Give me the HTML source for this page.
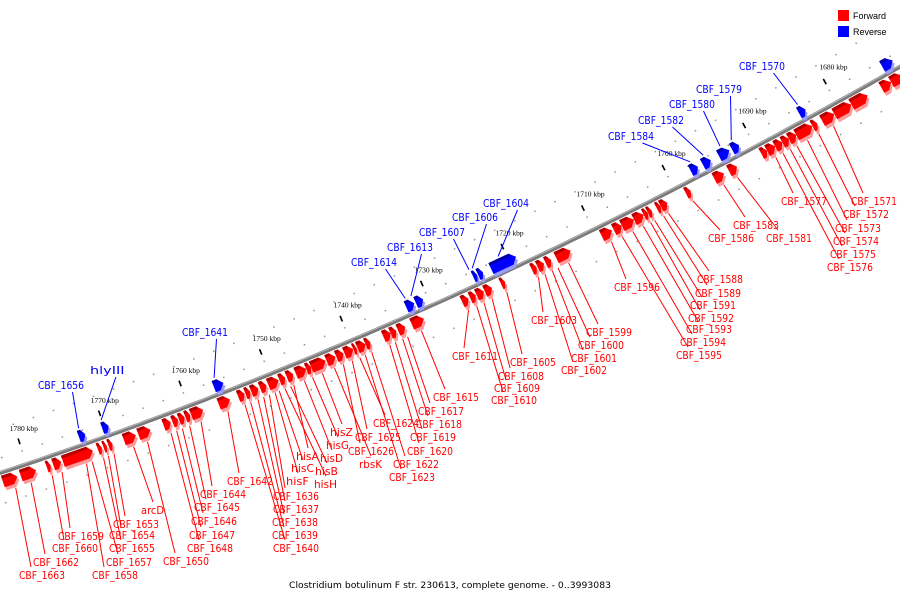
<!DOCTYPE html>
<html><head><meta charset="utf-8"><style>
html,body{margin:0;padding:0;background:#fff;}
svg{display:block;}
</style></head><body>
<svg id="chart" width="900" height="600" viewBox="0 0 900 600" xmlns="http://www.w3.org/2000/svg">
<rect x="0" y="0" width="900" height="600" fill="#fff"/>
<g id="dots"></g>
<g id="ticks"></g>
<g id="leaders"></g>
<g id="backbone"></g>
<g id="genes"></g>
<g id="labels"></g>
<g>
<rect x="838" y="10" width="11" height="11" fill="#f00"/>
<text x="853" y="19" font-family="Liberation Sans, sans-serif" font-size="9" fill="#000">Forward</text>
<rect x="838" y="26" width="11" height="11" fill="#00f"/>
<text x="853" y="35" font-family="Liberation Sans, sans-serif" font-size="9" fill="#000">Reverse</text>
</g>
<text x="450" y="588" text-anchor="middle" font-family="DejaVu Sans, sans-serif" font-size="9" textLength="322" lengthAdjust="spacingAndGlyphs" fill="#000">Clostridium botulinum F str. 230613, complete genome. - 0..3993083</text>
</svg>
<script>
// ---- data (kbp) ----
const tickKbp = [1680,1690,1700,1710,1720,1730,1740,1750,1760,1770,1780];
const tickLabels = ["1680 kbp","1690 kbp","1700 kbp","1710 kbp","1720 kbp","1730 kbp","1740 kbp","1750 kbp","1760 kbp","1770 kbp","1780 kbp"];
const fwdLo = [1781.5,1779.2,1777.4,1776.1,1772.2,1771.1,1770.5,1769.8,1766.9,1765.1,1762.6,1761.7,1760.9,1760.2,1758.6,1755.3,1753.5,1752.8,1751.8,1750.8,1749.3,1748.5,1747.5,1745.9,1745.3,1743.5,1742.3,1741.3,1740.1,1739.7,1738.6,1738.0,1735.5,1734.8,1733.7,1731.4,1725.9,1725.0,1724.0,1723.0,1721.4,1717.5,1716.6,1715.7,1713.3,1708.2,1707.0,1705.5,1704.3,1703.8,1703.3,1702.2,1701.4,1698.5,1694.4,1692.8,1689.1,1688.1,1687.2,1686.4,1685.5,1683.5,1682.9,1680.8,1678.7,1676.7,1673.8,1672.4];
const fwdHi = [1783.3,1781.1,1777.9,1777.1,1775.9,1771.6,1770.9,1770.3,1768.4,1766.6,1763.5,1762.4,1761.6,1760.8,1760.1,1756.7,1754.3,1753.4,1752.7,1751.6,1750.6,1749.2,1748.3,1747.2,1745.9,1745.3,1743.4,1742.2,1741.2,1740.1,1739.6,1738.6,1736.4,1735.5,1734.6,1732.9,1726.7,1725.7,1724.9,1723.9,1721.9,1718.1,1717.4,1716.4,1715.1,1709.5,1708.0,1707.0,1705.5,1704.3,1703.8,1702.7,1702.2,1699.1,1695.6,1693.8,1689.8,1689.1,1688.1,1687.2,1686.4,1685.5,1683.5,1682.3,1680.8,1678.7,1675.0,1673.8];
const revLo = [1772.4,1769.5,1755.3,1731.7,1730.6,1723.9,1723.2,1719.1,1696.6,1695.0,1692.7,1691.5,1683.3,1672.5];
const revHi = [1773.2,1770.3,1756.5,1732.7,1731.5,1724.4,1723.8,1722.2,1697.5,1696.0,1694.0,1692.4,1684.1,1673.8];
const fwdNames = ["CBF_1663","CBF_1662","CBF_1660","CBF_1659","CBF_1658","CBF_1657","CBF_1655","CBF_1654","CBF_1653","arcD","CBF_1650","CBF_1648","CBF_1647","CBF_1646","CBF_1645","CBF_1644","CBF_1642","CBF_1640","CBF_1639","CBF_1638","CBF_1637","CBF_1636","hisF","hisC","hisH","hisB","hisA","hisD","hisG","hisZ","rbsK","CBF_1626","CBF_1625","CBF_1624","CBF_1623","CBF_1622","CBF_1620","CBF_1619","CBF_1618","CBF_1617","CBF_1615","CBF_1611","CBF_1610","CBF_1609","CBF_1608","CBF_1605","CBF_1603","CBF_1602","CBF_1601","CBF_1600","CBF_1599","CBF_1596","CBF_1595","CBF_1594","CBF_1593","CBF_1592","CBF_1591","CBF_1589","CBF_1588","CBF_1586","CBF_1583","CBF_1581","CBF_1577","CBF_1576","CBF_1575","CBF_1574","CBF_1573","CBF_1572","CBF_1571"];
const fwdAnchor = [1782.1,1780.2,1777.6,1776.4,1773.4,1772.7,1771.3,1770.7,1770.0,1767.6,1765.9,1763.0,1762.3,1761.6,1760.7,1759.3,1756.0,1753.9,1753.2,1752.3,1751.6,1750.9,1750.2,1749.7,1749.0,1748.3,1747.9,1746.6,1745.6,1744.4,1742.9,1741.8,1740.7,1739.8,1739.1,1738.3,1736.1,1735.4,1734.5,1733.9,1732.2,1726.4,1725.4,1724.5,1723.5,1721.7,1717.8,1717.0,1716.1,1715.4,1714.1,1708.8,1707.5,1706.2,1704.9,1704.0,1703.5,1702.4,1701.8,1698.8,1695.0,1693.3,1688.6,1687.7,1686.8,1686.0,1684.7,1683.3,1681.5];
const fwdLabelX = [19,33,52,58,92,106,109,109,113,141,163,187,189,191,194,200,227,273,272,272,273,273,286,291,314,315,296,320,326,330,359,348,355,373,389,393,407,410,416,418,433,452,491,494,498,510,531,561,571,578,586,614,676,680,686,688,690,695,697,708,733,766,781,827,830,833,835,843,851];
const fwdLabelY = [579,566,552,540,579,566,552,539,528,514,565,552,539,525,511,498,485,552,539,526,513,500,485,472,488,475,460,462,449,436,468,455,441,427,481,468,455,441,428,415,401,360,404,392,380,366,324,374,362,349,336,291,359,346,333,322,309,297,283,242,229,242,205,271,258,245,232,218,205];
const revNames = ["CBF_1570","CBF_1579","CBF_1580","CBF_1582","CBF_1584","CBF_1604","CBF_1606","CBF_1607","CBF_1613","CBF_1614","CBF_1641","hlyIII","CBF_1656"];
const revAnchor = [1683.8,1692.0,1693.4,1695.5,1697.1,1720.9,1724.1,1724.5,1731.7,1732.4,1756.1,1770.1,1772.9];
const revLabelX = [739,696,669,638,608,483,452,419,387,351,182,90,38];
const revLabelY = [70,93,108,124,140,207,221,236,251,266,336,374,389];

// ---- scales ----
const NS = "http://www.w3.org/2000/svg";
function xOf(k){ return (1783.3 - k) * 8.097; }
function lineY(x){ return 473 - 0.33*x - 1.35e-4*x*x; }
function pt(x, off){
  const s = -(0.33 + 2*1.35e-4*x);
  const n = Math.sqrt(1+s*s);
  return [x + (-s)/n*off, lineY(x) + off/n];
}
function mk(tag, attrs, parent){
  const el = document.createElementNS(NS, tag);
  for (const a in attrs) el.setAttribute(a, attrs[a]);
  parent.appendChild(el);
  return el;
}
const P = (p)=>p[0].toFixed(1)+","+p[1].toFixed(1);

// backbone
const bb = document.getElementById('backbone');
let pts = [];
for (let x=-5; x<=905; x+=5) pts.push(x+","+lineY(x).toFixed(1));
let e = mk('polyline',{points:pts.join(' '),fill:'none',stroke:'#7a7a7a','stroke-width':4},bb);


e = mk('polyline',{points:pts.map(s=>{const [a,b]=s.split(',');return a+','+(b-1.2).toFixed(1);}).join(' '),fill:'none',stroke:'#b5b5b5','stroke-width':1},bb);



// minor dots
const dg = document.getElementById('dots');
for (let k=1672.5; k<=1785; k+=2.5){
  const x = xOf(k);
  const a = pt(x, -42), b = pt(x+10, 30), c = pt(x+20, -14);
  [a,b,c].forEach(p=>{
    const d = mk('circle',{cx:p[0].toFixed(1),cy:p[1].toFixed(1),r:0.9,fill:'#999'},dg);
    
    
  });
}

// ticks
const tg = document.getElementById('ticks');
tickKbp.forEach((k,i)=>{
  const x = xOf(k);
  const a = pt(x,-27), b = pt(x,-21);
  const t = mk('line',{x1:a[0],y1:a[1],x2:b[0],y2:b[1],stroke:'#000','stroke-width':1.6},tg);
  
  
  const l = mk('text',{x:(x-17).toFixed(1),y:(lineY(x)-33).toFixed(1),'font-family':'Liberation Serif, serif','font-size':7.5,fill:'#000'},tg);
  l.textContent = tickLabels[i];
  
  
});

// genes
const gg = document.getElementById('genes');
function gene(lo, hi, o1, o2, fill, shade, dark, name){
  const x1 = xOf(hi), x2 = xOf(lo);
  const len = x2 - x1;
  const tip = Math.min(5, len*0.5);
  const poly = [pt(x1,o1), pt(x2-tip,o1), pt(x2,(o1+o2)/2), pt(x2-tip,o2), pt(x1,o2)];
  const g = mk('g',{},gg);
  
  
  mk('polygon',{points:poly.map(p=>(p[0]+2)+","+(p[1]+3)).join(' '),fill:shade},g);
  mk('polygon',{points:poly.map(P).join(' '),fill:fill},g);
  const top = [pt(x1,o1), pt(x2-tip,o1), pt(x2-tip+1,o1+3), pt(x1,o1+3)];
  mk('polygon',{points:top.map(P).join(' '),fill:dark},g);
}
fwdLo.forEach((lo,i)=>gene(lo, fwdHi[i], 3, 15, '#f00', '#ff9a9a', '#b00000', 'forward-gene'));
revLo.forEach((lo,i)=>gene(lo, revHi[i], -15, -3, '#00f', '#9a9aff', '#0000a0', 'reverse-gene'));

// labels + leaders
const lg = document.getElementById('leaders');
const lb = document.getElementById('labels');
function label(txt, lx, ly, col){
  const w = txt.length*5.75;
  const t = mk('text',{x:lx,y:ly,'font-family':'DejaVu Sans, sans-serif','font-size':10.5,fill:col,textLength:w.toFixed(1),lengthAdjust:'spacingAndGlyphs'},lb);
  t.textContent = txt;
  
  
  return w;
}
fwdNames.forEach((n,i)=>{
  const x = xOf(fwdAnchor[i]);
  const a = pt(x, 19);
  const lx = fwdLabelX[i], ly = fwdLabelY[i];
  const ex = lx + 12, ey = ly - 12;
  const l = mk('line',{x1:a[0].toFixed(1),y1:a[1].toFixed(1),x2:ex,y2:ey,stroke:'#f00','stroke-width':1},lg);
  
  
  label(n, lx, ly, '#f00');
});
revNames.forEach((n,i)=>{
  const x = xOf(revAnchor[i]);
  const a = pt(x, -17);
  const lx = revLabelX[i], ly = revLabelY[i];
  const w = n.length*5.75;
  const ex = lx + w*0.75, ey = ly + 3;
  const l = mk('line',{x1:a[0].toFixed(1),y1:a[1].toFixed(1),x2:ex.toFixed(1),y2:ey,stroke:'#00f','stroke-width':1},lg);
  
  
  label(n, lx, ly, '#00f');
});
</script>
</body></html>
